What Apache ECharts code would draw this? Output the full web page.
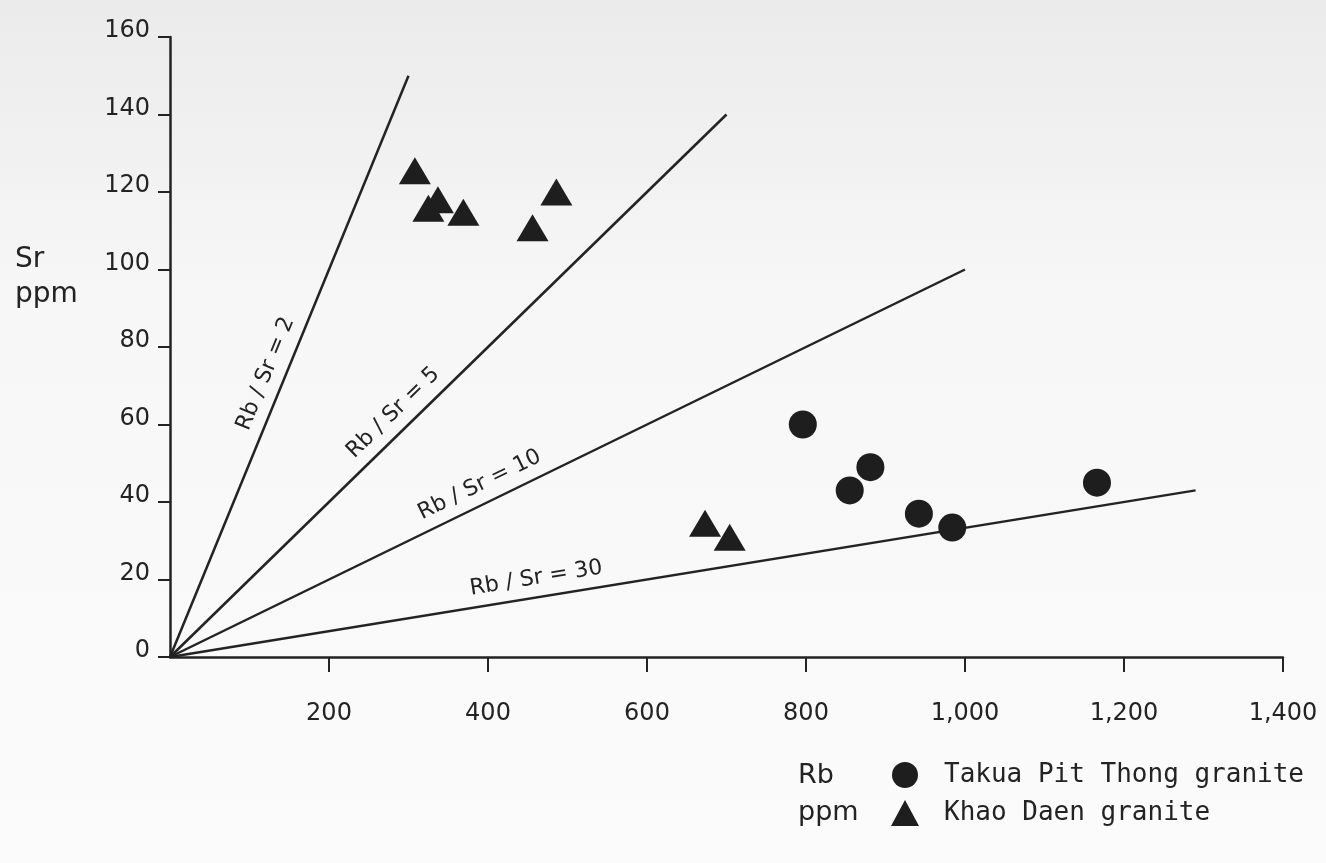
<!DOCTYPE html>
<html>
<head>
<meta charset="utf-8">
<title>Rb vs Sr</title>
<script src="https://cdn.jsdelivr.net/npm/echarts@6/dist/echarts.min.js"></script>
<style>
  html, body { margin: 0; padding: 0; }
  #chart { width: 1326px; height: 863px; }
</style>
</head>
<body>
<div id="chart"></div>
<script>
// values
const xTickLabels = ['', '200', '400', '600', '800', '1,000', '1,200', '1,400']
const yTickLabels = ['0', '20', '40', '60', '80', '100', '120', '140', '160']

const takuaPitThong = [
  [796, 60], [881, 49], [855, 43], [942, 37], [984, 33.4], [1166, 45]
]
const khaoDaen = [
  [308, 125.5], [337, 118], [325, 115.8], [369, 114.8],
  [456, 110.8], [486, 120], [673, 34.5], [704, 30.9]
]

// Rb/Sr reference lines, from origin to the drawn end
const ratioNames = ['Rb / Sr = 2', 'Rb / Sr = 5', 'Rb / Sr = 10', 'Rb / Sr = 30']
const ratioEnds = [[300, 150], [700, 140], [1000, 100], [1290, 43]]

const seriesNames = ['Takua Pit Thong granite', 'Khao Daen granite']

// where each ratio label sits along its line (0..1) and how far above it
const labelFrac = [0.475, 0.425, 0.4, 0.36]
const labelGap = 19

const INK = '#232323'
const LETTER_FONT = '"DejaVu Sans", sans-serif'
const TYPE_FONT = '"DejaVu Sans Mono", "Liberation Mono", monospace'

const chart = echarts.init(document.getElementById('chart'))

const lineSeries = ratioEnds.map((end, i) => ({
  type: 'line',
  name: ratioNames[i],
  data: [[0, 0], end],
  symbol: 'none',
  silent: true,
  z: 1,
  lineStyle: { color: INK, width: 2.5 }
}))

const fixedText = [
  { type: 'text', left: 15, top: 246, style: { text: 'Sr', font: '28px ' + LETTER_FONT, fill: INK } },
  { type: 'text', left: 15, top: 281, style: { text: 'ppm', font: '28px ' + LETTER_FONT, fill: INK } },
  { type: 'text', left: 798, top: 762, style: { text: 'Rb', font: '27px ' + LETTER_FONT, fill: INK } },
  { type: 'text', left: 798, top: 799, style: { text: 'ppm', font: '27px ' + LETTER_FONT, fill: INK } }
]

chart.setOption({
  backgroundColor: {
    type: 'linear', x: 0, y: 0, x2: 0, y2: 1,
    colorStops: [
      { offset: 0, color: '#ebebeb' },
      { offset: 0.35, color: '#f7f7f7' },
      { offset: 1, color: '#fbfbfb' }
    ]
  },
  animation: false,
  grid: { left: 170, right: 43, top: 37, bottom: 206 },
  xAxis: {
    type: 'value',
    min: 0,
    max: 1400,
    interval: 200,
    splitLine: { show: false },
    axisLine: { onZero: false, lineStyle: { color: INK, width: 2.5 } },
    axisTick: { length: 15, lineStyle: { color: INK, width: 2 } },
    axisLabel: {
      showMinLabel: false,
      margin: 45,
      color: INK,
      fontFamily: LETTER_FONT,
      fontSize: 24,
      formatter: v => xTickLabels[Math.round(v / 200)]
    }
  },
  yAxis: {
    type: 'value',
    min: 0,
    max: 160,
    interval: 20,
    splitLine: { show: false },
    axisLine: { onZero: false, lineStyle: { color: INK, width: 2.5 } },
    axisTick: { length: 12, lineStyle: { color: INK, width: 2 } },
    axisLabel: {
      margin: 20,
      color: INK,
      fontFamily: LETTER_FONT,
      fontSize: 24,
      verticalAlign: 'bottom',
      lineHeight: 12,
      formatter: v => yTickLabels[Math.round(v / 20)]
    }
  },
  legend: {
    data: seriesNames,
    orient: 'vertical',
    left: 886,
    top: 757,
    itemWidth: 28,
    itemHeight: 26,
    itemGap: 12,
    selectedMode: false,
    textStyle: {
      color: INK,
      fontFamily: TYPE_FONT,
      fontSize: 26,
      padding: [0, 0, 0, 20]
    }
  },
  series: [
    ...lineSeries,
    {
      type: 'scatter',
      name: seriesNames[0],
      data: takuaPitThong,
      symbol: 'circle',
      symbolSize: 28,
      z: 3,
      itemStyle: { color: '#1e1e1e', opacity: 1 }
    },
    {
      type: 'scatter',
      name: seriesNames[1],
      data: khaoDaen,
      symbol: 'triangle',
      symbolSize: [32, 27],
      z: 3,
      itemStyle: { color: '#1e1e1e', opacity: 1 }
    }
  ],
  graphic: fixedText
})

// rotated labels along each ratio line, placed through the chart's own scales
const ratioText = ratioEnds.map((end, i) => {
  const p0 = chart.convertToPixel({ gridIndex: 0 }, [0, 0])
  const p1 = chart.convertToPixel({ gridIndex: 0 }, end)
  const dx = p1[0] - p0[0]
  const dy = p0[1] - p1[1]
  const ang = Math.atan2(dy, dx)
  const f = labelFrac[i]
  const cx = p0[0] + dx * f - Math.sin(ang) * labelGap
  const cy = p0[1] - dy * f - Math.cos(ang) * labelGap
  return {
    type: 'text',
    x: cx,
    y: cy,
    rotation: ang,
    silent: true,
    style: {
      text: ratioNames[i],
      font: '22px ' + LETTER_FONT,
      fill: INK,
      align: 'center',
      verticalAlign: 'middle'
    }
  }
})

chart.setOption({ graphic: [...fixedText, ...ratioText] })
</script>
</body>
</html>
